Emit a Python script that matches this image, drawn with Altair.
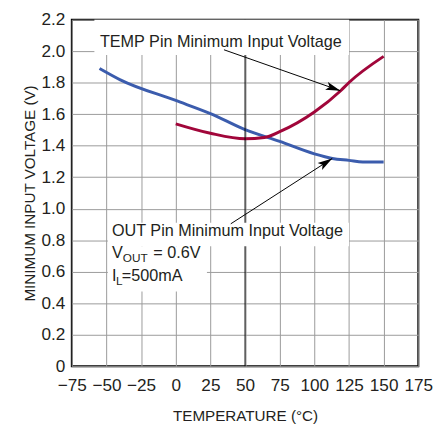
import altair as alt
import pandas as pd
import numpy as np

# ---- data ----
out_temp = [-55, -40, 0, 25, 50, 75, 100, 113, 125, 135, 150]
out_volt = [1.890, 1.818, 1.687, 1.604, 1.502, 1.427, 1.348, 1.319, 1.307, 1.297, 1.296]
tmp_temp = [0, 25, 50, 64, 75, 100, 119, 125, 150]
tmp_volt = [1.539, 1.479, 1.444, 1.452, 1.489, 1.614, 1.749, 1.801, 1.967]

x_ticks = list(range(-75, 176, 25))
y_ticks = [0, 0.2, 0.4, 0.6, 0.8, 1.0, 1.2, 1.4, 1.6, 1.8, 2.0, 2.2]

FONT = "Liberation Sans, Arial, sans-serif"
BLUE = "#3b5cad"
RED = "#a1063a"
TXT = "#231f20"
W, H = 353, 353
XD, YD = [-75, 175], [0, 2.2]

xs = alt.Scale(domain=XD, nice=False, zero=False)
ys = alt.Scale(domain=YD, nice=False, zero=False)

lines = pd.DataFrame(
    [{"t": t, "v": v, "s": "OUT"} for t, v in zip(out_temp, out_volt)]
    + [{"t": t, "v": v, "s": "TEMP"} for t, v in zip(tmp_temp, tmp_volt)]
)

# annotation boxes (white backgrounds hiding the grid)
boxes = pd.DataFrame([
    {"x": -58.7, "x2": 125, "y": 1.976, "y2": 2.2},
    {"x": -49, "x2": 125, "y": 0.762, "y2": 0.910},
    {"x": -49, "x2": 22.5, "y": 0.474, "y2": 0.762},
])

# arrows: start (text) -> tip (curve)
arrows = pd.DataFrame([
    {"x": 34.8, "y": 2.009, "x2": 118.8, "y2": 1.749},
    {"x": 39.7, "y": 0.904, "x2": 112.9, "y2": 1.319},
])
pxx = W / (XD[1] - XD[0])
pxy = H / (YD[1] - YD[0])
ang = np.degrees(np.arctan2(-(arrows["y2"] - arrows["y"]) * pxy, (arrows["x2"] - arrows["x"]) * pxx))
arrows["ang"] = (ang + 360) % 360

x_axis = alt.Axis(
    values=x_ticks, title="TEMPERATURE (°C)", grid=True,
    domain=False, ticks=False, labelPadding=11, titlePadding=15, labelOverlap=False,
    labelFlush=False, labelBound=False)
y_axis = alt.Axis(
    values=y_ticks, title="MINIMUM INPUT VOLTAGE (V)", grid=True,
    domain=False, ticks=False, labelPadding=7, titlePadding=4, labelOverlap=False,
    labelFlush=False, labelBound=False,
    labelExpr="datum.value == 0 ? '0' : format(datum.value, '.1f')")


def X(f):
    return alt.X(f, scale=xs, axis=x_axis)


def Y(f):
    return alt.Y(f, scale=ys, axis=y_axis)


base_lines = alt.Chart(lines).mark_line(strokeWidth=3, interpolate="monotone").encode(
    x=X("t:Q"), y=Y("v:Q"),
    color=alt.Color("s:N", scale=alt.Scale(domain=["OUT", "TEMP"], range=[BLUE, RED]), legend=None),
    detail="s:N",
)

black_rule = alt.Chart(pd.DataFrame({"t": [50], "lo": [0.0], "hi": [2.2]})).mark_rule(
    color="black", strokeWidth=1).encode(x=X("t:Q"), y=Y("lo:Q"), y2="hi:Q")

rects = alt.Chart(boxes).mark_rect(color="white").encode(
    x=X("x:Q"), x2="x2:Q", y=Y("y:Q"), y2="y2:Q")

arrow_lines = alt.Chart(arrows).mark_rule(color="black", strokeWidth=1).encode(
    x=X("x:Q"), y=Y("y:Q"), x2="x2:Q", y2="y2:Q")

heads = alt.Chart(arrows).mark_point(
    shape="M0,0L-1,-0.28L-0.78,0L-1,0.28Z", filled=True, color="black", opacity=1, size=900
).encode(x=X("x2:Q"), y=Y("y2:Q"), angle=alt.Angle("ang:Q", scale=None))

texts = pd.DataFrame([
    {"x": -54.7, "y": 2.026, "dx": 0, "dy": 0, "size": 16.5, "txt": "TEMP Pin Minimum Input Voltage"},
    {"x": -46, "y": 0.8246, "dx": 0, "dy": 0, "size": 16.5, "txt": "OUT Pin Minimum Input Voltage"},
    {"x": -46, "y": 0.684, "dx": 0, "dy": 0, "size": 16.5, "txt": "V"},
    {"x": -46, "y": 0.684, "dx": 11, "dy": 4, "size": 12, "txt": "OUT"},
    {"x": -46, "y": 0.684, "dx": 42, "dy": 0, "size": 16.5, "txt": "= 0.6V"},
    {"x": -46, "y": 0.538, "dx": 0, "dy": 0, "size": 16.5, "txt": "I"},
    {"x": -46, "y": 0.538, "dx": 4.2, "dy": 4, "size": 12, "txt": "L"},
    {"x": -46, "y": 0.538, "dx": 10, "dy": 0, "size": 16.5, "txt": "=500mA"},
])

text_layers = []
for i, r in texts.iterrows():
    text_layers.append(
        alt.Chart(texts.iloc[[i]]).mark_text(
            align="left", baseline="alphabetic", font=FONT, fontSize=float(r["size"]),
            dx=float(r["dx"]), dy=float(r["dy"]), color=TXT
        ).encode(x=X("x:Q"), y=Y("y:Q"), text="txt:N")
    )

chart = alt.layer(base_lines, black_rule, rects, arrow_lines, heads, *text_layers).properties(
    width=W, height=H,
    autosize=alt.AutoSizeParams(type="none"),
    padding={"left": 65, "top": 8, "right": 16, "bottom": 56},
).configure_view(stroke="black", strokeWidth=2).configure_axis(
    labelFont=FONT, titleFont=FONT, labelFontSize=17.5, titleFontSize=15.5,
    titleFontWeight="normal", labelColor=TXT, titleColor=TXT,
    gridColor="#9a9a9a", gridWidth=1, gridOpacity=1,
)

chart.save("out.html", embed_options={"renderer": "svg", "actions": False})
